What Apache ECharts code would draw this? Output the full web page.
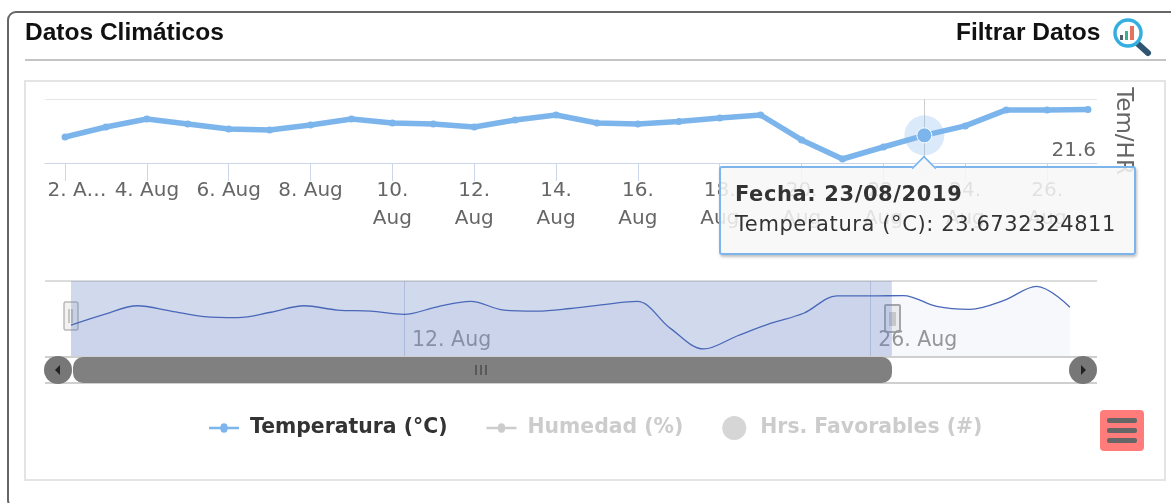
<!DOCTYPE html>
<html>
<head>
<meta charset="utf-8">
<title>Datos Climáticos</title>
<script src="https://cdn.jsdelivr.net/npm/echarts@6/dist/echarts.min.js"></script>
<style>
  html, body { margin: 0; padding: 0; background: #fff; overflow: hidden; }
  #chart { width: 1171px; height: 503px; }
</style>
</head>
<body>
<div id="chart"></div>
<script>
// days of August 2019, 32 = 1 Sep (only the navigator reaches that far)
const days = [2, 3, 4, 5, 6, 7, 8, 9, 10, 11, 12, 13, 14, 15, 16, 17, 18, 19, 20, 21, 22, 23, 24, 25, 26, 27, 28, 29, 30, 31, 32]
const temperatura = [23.55, 24.30, 24.90, 24.53, 24.15, 24.08, 24.45, 24.90, 24.60, 24.53, 24.30, 24.83, 25.20, 24.60, 24.53, 24.71, 24.98, 25.20, 23.33, 21.90, 22.80, 23.6732324811, 24.38, 25.58, 25.58, 25.61, 24.85, 24.65, 25.25, 26.25, 24.80]
const mainDays = 26
const tickDays = [2, 4, 6, 8, 10, 12, 14, 16, 18, 20, 22, 24, 26]
const tickLabels = ['{first|2. A…}', '4. Aug', '6. Aug', '8. Aug', '10.\nAug', '12.\nAug', '14.\nAug', '16.\nAug', '18.\nAug', '20.\nAug', '22.\nAug', '24.\nAug', '26.\nAug']
const navTickDays = [12, 26]
const navTickLabels = ['12. Aug', '26. Aug']
const navWindow = [2, 26.65]
const hoverDay = 23
const legendNames = ['Temperatura (°C)', 'Humedad (%)', 'Hrs. Favorables (#)']

const uiFont = 'DejaVu Sans'
const headFont = 'Liberation Sans'
const blue = '#7cb5ec'
const lineIcon = 'path://M0 3.75H11.5A3.5 3.5 0 0 1 18.5 3.75H30V6.25H18.5A3.5 3.5 0 0 1 11.5 6.25H0Z'

const hoverIndex = days.indexOf(hoverDay)
const mainData = days.slice(0, mainDays).map((d, i) => {
  if (i === hoverIndex) {
    return {
      value: [d, temperatura[i]],
      symbolSize: 15,
      itemStyle: { borderColor: '#fff', borderWidth: 1 }
    }
  }
  return [d, temperatura[i]]
})
const navData = days.map((d, i) => [d, temperatura[i]])

const line = (x1, y1, x2, y2, stroke, lineWidth) => ({
  type: 'line',
  silent: true,
  shape: { x1, y1, x2, y2 },
  style: { stroke, lineWidth }
})
const rect = (x, y, width, height, r, style) => ({
  type: 'rect',
  silent: true,
  shape: { x, y, width, height, r },
  style
})

const frame = [
  rect(8, 12, 1260, 496, 8, { fill: '#fff', stroke: '#666', lineWidth: 2 }),
  line(25, 60, 1166, 60, '#c4c4c4', 2),
  rect(25, 81, 1140, 399, 0, { fill: '#fff', stroke: '#e4e4e4', lineWidth: 2 })
]

const icon = [
  { type: 'line', silent: true, shape: { x1: 1137, y1: 43, x2: 1148, y2: 53 }, style: { stroke: '#2f5570', lineWidth: 6, lineCap: 'round' } },
  { type: 'circle', silent: true, shape: { cx: 1128, cy: 33, r: 13 }, style: { fill: '#fff', stroke: '#35aee0', lineWidth: 3.5 } },
  rect(1120, 35, 3, 5, 0, { fill: '#555e66' }),
  rect(1125, 31, 3, 9, 0, { fill: '#3cb08c' }),
  rect(1130, 26, 4, 14, 0, { fill: '#e8705f' })
]

const scrollbar = [
  line(45, 281, 1097, 281, '#dcdcdc', 2),
  line(45, 357, 1097, 357, '#cfcfcf', 2),
  line(45, 383, 1097, 383, '#cfcfcf', 2),
  rect(73, 357, 819, 26, 10, { fill: '#808080' }),
  line(476, 365, 476, 375, '#333', 1),
  line(481, 365, 481, 375, '#333', 1),
  line(486, 365, 486, 375, '#333', 1),
  { type: 'circle', silent: true, shape: { cx: 58, cy: 370, r: 14 }, style: { fill: '#777' } },
  { type: 'circle', silent: true, shape: { cx: 1083, cy: 370, r: 14 }, style: { fill: '#777' } },
  { type: 'polygon', silent: true, shape: { points: [[60, 365], [60, 375], [55, 370]] }, style: { fill: '#222' } },
  { type: 'polygon', silent: true, shape: { points: [[1081, 365], [1081, 375], [1086, 370]] }, style: { fill: '#222' } }
]

const handles = [
  rect(64, 302, 14, 28, 1, { fill: '#f2f2f2', stroke: '#999', lineWidth: 1 }),
  line(69, 309, 69, 323, '#999', 1),
  line(72, 309, 72, 323, '#999', 1),
  rect(885, 305, 15, 27, 1, { fill: '#f2f2f2', stroke: '#aaa', lineWidth: 2 }),
  rect(889, 312, 7, 14, 0, { fill: '#ccc' })
]

const menuButton = [
  rect(1100, 410, 44, 41, 4, { fill: '#ff7c7a' }),
  rect(1107, 418, 30, 5, 2, { fill: '#666' }),
  rect(1107, 428, 30, 5, 2, { fill: '#666' }),
  rect(1107, 438, 30, 5, 2, { fill: '#666' })
]

const option = {
  animation: false,
  backgroundColor: '#fff',
  title: [
    {
      text: 'Datos Climáticos',
      left: 25,
      top: 21,
      padding: 0,
      textStyle: { fontFamily: headFont, fontSize: 24.5, fontWeight: 'bold', color: '#111' }
    },
    {
      text: 'Filtrar Datos',
      left: 956,
      top: 21,
      padding: 0,
      textStyle: { fontFamily: headFont, fontSize: 24.5, fontWeight: 'bold', color: '#111' }
    }
  ],
  graphic: {
    elements: [
      { type: 'group', z: -10, silent: true, children: frame },
      { type: 'group', children: icon.concat(scrollbar, menuButton) },
      { type: 'group', z: 100, children: handles }
    ]
  },
  legend: {
    left: 209,
    top: 416,
    padding: 0,
    itemWidth: 30,
    itemHeight: 24,
    itemGap: 39,
    selected: { 'Humedad (%)': false, 'Hrs. Favorables (#)': false },
    inactiveColor: '#ccc',
    textStyle: { fontFamily: uiFont, fontSize: 20.4, fontWeight: 'bold', color: '#333', padding: [0, 0, 0, 6] },
    data: [
      { name: legendNames[0], icon: lineIcon },
      { name: legendNames[1], icon: lineIcon },
      { name: legendNames[2], icon: 'circle' }
    ]
  },
  tooltip: {
    trigger: 'item',
    alwaysShowContent: true,
    transitionDuration: 0,
    confine: false,
    backgroundColor: 'rgba(247,247,247,0.85)',
    borderColor: blue,
    borderWidth: 2,
    borderRadius: 3,
    padding: [11, 14, 14, 14],
    textStyle: { fontFamily: uiFont, fontSize: 21, color: '#333' },
    extraCssText: 'box-shadow: 1px 2px 3px rgba(0,0,0,0.25); line-height: 30px; width: 385px; letter-spacing: 0.6px;',
    position: [719, 166],
    formatter: params => {
      const day = params.value[0]
      return '<div style="position:absolute;left:192px;top:-11px;width:20px;height:20px;background:#f7f7f7;' +
        'border-left:2px solid ' + blue + ';border-top:2px solid ' + blue + ';transform:rotate(45deg) scale(.8);"></div>' +
        '<div style="position:relative"><b>Fecha: ' + day + '/08/2019</b><br>' +
        params.seriesName + ': ' + params.value[1] + '</div>'
    }
  },
  grid: [
    { left: 45, right: 74, top: 99, height: 64 },
    { left: 71, right: 101, top: 281, height: 75 }
  ],
  xAxis: [
    {
      type: 'value',
      gridIndex: 0,
      min: 1.51,
      max: 27.22,
      splitLine: { show: false },
      axisLine: { show: true, lineStyle: { color: '#ccd6eb', width: 1 } },
      axisTick: { show: true, customValues: tickDays, length: 18, lineStyle: { color: '#ccd6eb' } },
      axisLabel: {
        customValues: tickDays,
        margin: 14,
        color: '#666',
        fontFamily: uiFont,
        fontSize: 20,
        lineHeight: 28,
        hideOverlap: false,
        formatter: value => tickLabels[tickDays.indexOf(value)],
        rich: {
          first: { fontFamily: uiFont, fontSize: 20, color: '#666', padding: [0, 0, 0, 24] }
        }
      }
    },
    {
      type: 'value',
      gridIndex: 1,
      min: days[0],
      max: days[days.length - 1],
      splitLine: { show: false },
      axisLine: { show: false },
      axisTick: { show: true, inside: true, customValues: navTickDays, length: 75, lineStyle: { color: 'rgba(120,140,185,0.35)' } },
      axisLabel: {
        customValues: navTickDays,
        inside: true,
        align: 'left',
        margin: 5,
        color: '#999',
        fontFamily: uiFont,
        fontSize: 20.5,
        formatter: value => navTickLabels[navTickDays.indexOf(value)],
        padding: [0, 0, 0, 8]
      }
    }
  ],
  yAxis: [
    {
      type: 'value',
      gridIndex: 0,
      position: 'right',
      min: 21.6,
      max: 26.4,
      name: 'Tem/HR',
      nameLocation: 'middle',
      nameRotate: -90,
      nameGap: 14,
      nameTextStyle: { fontFamily: uiFont, fontSize: 23, color: '#666' },
      axisLine: { show: false },
      axisTick: { show: false, customValues: [21.6, 26.4] },
      splitLine: { show: true, customValues: [21.6, 26.4], lineStyle: { color: '#e6e6e6' } },
      axisLabel: {
        customValues: [21.6],
        inside: true,
        margin: 1,
        color: '#666',
        fontFamily: uiFont,
        fontSize: 20,
        verticalAlign: 'bottom',
        padding: [0, 0, 2, 0]
      }
    },
    {
      type: 'value',
      gridIndex: 1,
      min: 21.41,
      max: 26.62,
      show: false,
      splitLine: { show: false }
    }
  ],
  series: [
    {
      name: legendNames[0],
      type: 'line',
      xAxisIndex: 0,
      yAxisIndex: 0,
      z: 3,
      data: mainData,
      symbol: 'circle',
      symbolSize: 7,
      itemStyle: { color: blue },
      lineStyle: { color: blue, width: 5.5 },
      markLine: {
        silent: true,
        z: 1,
        symbol: 'none',
        label: { show: false },
        lineStyle: { color: '#ccc', type: 'solid', width: 1 },
        data: [{ xAxis: hoverDay }]
      }
    },
    {
      name: legendNames[1],
      type: 'line',
      xAxisIndex: 0,
      yAxisIndex: 0,
      data: [],
      symbol: 'diamond',
      symbolSize: 7,
      itemStyle: { color: '#aaa' },
      lineStyle: { color: '#aaa', width: 2 }
    },
    {
      name: legendNames[2],
      type: 'scatter',
      xAxisIndex: 0,
      yAxisIndex: 0,
      data: [],
      itemStyle: { color: '#aaa' }
    },
    {
      // halo behind the hovered point
      name: 'Resaltado',
      type: 'scatter',
      xAxisIndex: 0,
      yAxisIndex: 0,
      z: 2,
      silent: true,
      tooltip: { show: false },
      symbolSize: 40,
      itemStyle: { color: 'rgba(124,181,236,0.35)' },
      data: [[hoverDay, temperatura[hoverIndex]]]
    },
    {
      name: 'Navegador',
      type: 'line',
      xAxisIndex: 1,
      yAxisIndex: 1,
      data: navData,
      smooth: 0.35,
      symbol: 'none',
      lineStyle: { color: '#4a68b8', width: 1.3 },
      areaStyle: { color: 'rgba(74,104,184,0.06)' },
      markArea: {
        silent: true,
        itemStyle: { color: 'rgba(102,133,194,0.3)' },
        data: [[{ xAxis: navWindow[0] }, { xAxis: navWindow[1] }]]
      }
    }
  ]
}

const chart = echarts.init(document.getElementById('chart'))
chart.setOption(option)
chart.dispatchAction({ type: 'showTip', seriesIndex: 0, dataIndex: hoverIndex })
</script>
</body>
</html>
